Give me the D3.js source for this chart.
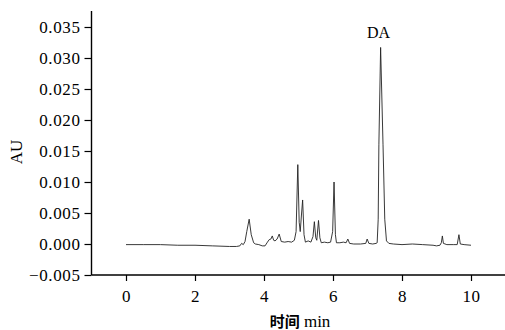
<!DOCTYPE html>
<html>
<head>
<meta charset="utf-8">
<script src="https://cdn.jsdelivr.net/npm/d3@7"></script>
<style>
  html, body { margin: 0; padding: 0; background: #fff; }
  svg { display: block; }
</style>
</head>
<body>
<svg id="chart" width="505" height="330"></svg>
<script>
// retention time (min) and absorbance (AU)
const time = [
  0.00, 0.50, 1.00, 1.50, 2.00, 2.50, 3.00, 3.20, 3.30, 3.35, 3.40, 3.45,
  3.50, 3.57, 3.63, 3.70, 3.75, 3.85, 3.95, 4.03, 4.10, 4.15, 4.20, 4.24,
  4.28, 4.32, 4.38, 4.44, 4.50, 4.60, 4.70, 4.80, 4.88, 4.93, 4.98, 5.02,
  5.05, 5.09, 5.12, 5.16, 5.20, 5.28, 5.36, 5.42, 5.46, 5.50, 5.53, 5.58,
  5.62, 5.66, 5.75, 5.85, 5.93, 5.99, 6.03, 6.07, 6.10, 6.20, 6.30, 6.38,
  6.43, 6.48, 6.60, 6.80, 6.95, 6.99, 7.04, 7.15, 7.25, 7.28, 7.31, 7.33,
  7.38, 7.45, 7.50, 7.55, 7.62, 7.75, 8.00, 8.30, 8.60, 8.90, 9.00, 9.10,
  9.14, 9.17, 9.20, 9.30, 9.50, 9.60, 9.65, 9.69, 9.80, 10.00
];
const absorbance = [
  -0.0001, -0.0001, -0.0001, -0.0002, -0.0002, -0.0003, -0.0004, -0.0004, -0.0003, 0.0001, -0.0001, 0.0004,
  0.0020, 0.0040, 0.0015, 0.0002, 0.0000, -0.0001, -0.0003, -0.0003, 0.0003, 0.0007, 0.0008, 0.0013,
  0.0006, 0.0005, 0.0008, 0.0016, 0.0004, 0.0003, 0.0004, 0.0003, 0.0006, 0.0020, 0.0128, 0.0035,
  0.0020, 0.0050, 0.0071, 0.0015, 0.0003, 0.0005, 0.0003, 0.0012, 0.0036, 0.0010, 0.0006, 0.0038,
  0.0010, 0.0002, 0.0003, 0.0002, 0.0003, 0.0020, 0.0100, 0.0015, 0.0002, 0.0002, 0.0003, 0.0002,
  0.0008, 0.0001, 0.0000, 0.0000, 0.0001, 0.0008, 0.0001, 0.0000, 0.0001, 0.0002, 0.0040, 0.0160,
  0.0317, 0.0160, 0.0040, 0.0005, 0.0001, 0.0000, -0.0001, 0.0000, -0.0001, -0.0002, -0.0003, -0.0002,
  0.0002, 0.0013, 0.0001, -0.0001, -0.0001, -0.0001, 0.0015, 0.0000, -0.0001, -0.0002
];

const xMajor = [0, 2, 4, 6, 8, 10];
const xMinor = [-1, 1, 3, 5, 7, 9, 11];
const yMajor = [-0.005, 0, 0.005, 0.010, 0.015, 0.020, 0.025, 0.030, 0.035];
const yMinor = [-0.0025, 0.0025, 0.0075, 0.0125, 0.0175, 0.0225, 0.0275, 0.0325];

const peakLabel = { text: 'DA', t: 7.38 };
const xTitle = ['时间', ' min'];
const yTitle = 'AU';

const serif = '"Liberation Serif", "Times New Roman", serif';
const svg = d3.select('#chart');

const x = d3.scaleLinear().domain([-1, 11]).range([91.5, 505.5]);
const y = d3.scaleLinear().domain([-0.005, 0.035]).range([275, 27]);
const yTop = y.invert(11);

const points = time.map((t, i) => ({ t, a: absorbance[i] }));

const line = d3.line()
    .x(d => x(d.t))
    .y(d => y(d.a));

svg.append('path')
    .datum(points)
    .attr('fill', 'none')
    .attr('stroke', '#222')
    .attr('stroke-width', 0.9)
    .attr('stroke-linejoin', 'round')
    .attr('d', line);

// bottom axis
const xAxisG = svg.append('g').attr('transform', `translate(0,${y(-0.005)})`);
xAxisG.call(d3.axisBottom(x).tickValues(xMinor).tickSize(5).tickFormat(''));
xAxisG.call(d3.axisBottom(x).tickValues(xMajor).tickSize(6).tickPadding(9).tickFormat(d3.format('d')));
xAxisG.selectAll('path.domain').attr('d', `M${x(-1)},0H${x(11)}`);

// left axis
const yAxisG = svg.append('g').attr('transform', `translate(${x(-1)},0)`);
yAxisG.call(d3.axisLeft(y).tickValues(yMinor).tickSize(4).tickFormat(''));
yAxisG.call(d3.axisLeft(y).tickValues(yMajor).tickSize(7).tickPadding(4).tickFormat(d3.format('.3f')));
yAxisG.selectAll('path.domain').attr('d', `M0,${y(yTop)}V${y(-0.005)}`);

svg.selectAll('.domain').attr('stroke', '#000').attr('stroke-width', 1.4);
svg.selectAll('.tick line').attr('stroke', '#000').attr('stroke-width', 1.2);
svg.selectAll('.tick text')
    .attr('font-family', serif)
    .attr('font-size', 17)
    .attr('letter-spacing', 0.6)
    .attr('fill', '#000');

// peak label
svg.append('text')
    .attr('x', x(peakLabel.t) - 2)
    .attr('y', 38)
    .attr('text-anchor', 'middle')
    .attr('font-family', serif)
    .attr('font-size', 16)
    .text(peakLabel.text);

// axis titles
const xt = svg.append('text')
    .attr('x', 300)
    .attr('y', 327)
    .attr('text-anchor', 'middle')
    .attr('font-size', 16);
xt.append('tspan').attr('font-family', '"Noto Sans CJK SC", sans-serif').attr('font-weight', 'bold').attr('font-size', 15).text(xTitle[0]);
xt.append('tspan').attr('font-family', serif).attr('font-size', 17).text(xTitle[1]);

svg.append('text')
    .attr('transform', 'translate(22,152) rotate(-90)')
    .attr('text-anchor', 'middle')
    .attr('font-family', serif)
    .attr('font-size', 17)
    .text(yTitle);
</script>
</body>
</html>
